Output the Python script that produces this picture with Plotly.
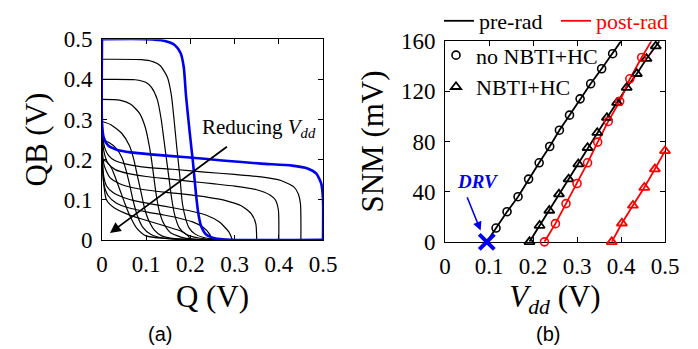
import plotly.graph_objects as go

# ---------------- (a) butterfly curves: forward VTC points
vdd_levels = [0.5, 0.45, 0.4, 0.35, 0.3, 0.25, 0.2]

q_050 = [0, 0.10, 0.14, 0.165, 0.178, 0.185, 0.19, 0.198, 0.206, 0.213, 0.218, 0.224, 0.235, 0.255, 0.29, 0.5]
qb_050 = [0.5, 0.5, 0.496, 0.485, 0.465, 0.43, 0.36, 0.272, 0.191, 0.11, 0.065, 0.035, 0.014, 0.004, 0.0, 0]

q_045 = [0, 0.09, 0.115, 0.132, 0.148, 0.157, 0.163, 0.169, 0.176, 0.182, 0.19, 0.197, 0.21, 0.23, 0.26, 0.45]
qb_045 = [0.45, 0.449, 0.444, 0.434, 0.405, 0.36, 0.3, 0.232, 0.16, 0.09, 0.05, 0.03, 0.015, 0.006, 0.002, 0]

q_040 = [0, 0.075, 0.1, 0.112, 0.125, 0.134, 0.14, 0.146, 0.152, 0.158, 0.165, 0.175, 0.19, 0.222, 0.26, 0.4]
qb_040 = [0.4, 0.399, 0.392, 0.38, 0.35, 0.3, 0.25, 0.2, 0.15, 0.1, 0.06, 0.03, 0.014, 0.004, 0.001, 0]

q_035 = [0, 0.04, 0.065, 0.085, 0.098, 0.106, 0.112, 0.118, 0.123, 0.13, 0.14, 0.155, 0.185, 0.22, 0.35]
qb_035 = [0.35, 0.348, 0.338, 0.315, 0.28, 0.24, 0.2, 0.15, 0.11, 0.07, 0.04, 0.018, 0.005, 0.001, 0]

q_030 = [0, 0.02, 0.045, 0.062, 0.072, 0.08, 0.088, 0.096, 0.105, 0.118, 0.135, 0.165, 0.3]
qb_030 = [0.295, 0.287, 0.265, 0.235, 0.2, 0.16, 0.12, 0.08, 0.05, 0.025, 0.01, 0.003, 0]

q_025 = [0, 0.015, 0.032, 0.045, 0.054, 0.062, 0.07, 0.08, 0.092, 0.11, 0.14, 0.25]
qb_025 = [0.25, 0.243, 0.228, 0.205, 0.175, 0.14, 0.1, 0.06, 0.032, 0.014, 0.004, 0]

q_020 = [0, 0.01, 0.022, 0.032, 0.042, 0.052, 0.063, 0.078, 0.1, 0.2]
qb_020 = [0.2, 0.195, 0.178, 0.15, 0.12, 0.09, 0.06, 0.03, 0.01, 0]

curves_q = [q_050, q_045, q_040, q_035, q_030, q_025, q_020]
curves_qb = [qb_050, qb_045, qb_040, qb_035, qb_030, qb_025, qb_020]

axis_ticks_a = [0, 0.1, 0.2, 0.3, 0.4, 0.5]

# ---------------- (b) SNM vs Vdd
pre_no_vdd = [0.116, 0.141, 0.166, 0.190, 0.214, 0.238, 0.260, 0.283, 0.307, 0.331, 0.356, 0.381]
pre_no_snm = [11, 24, 36, 50, 63, 76, 89, 101, 114, 126, 138, 150]
pre_no_line_vdd = [0.095] + pre_no_vdd + [0.400]
pre_no_line_snm = [0] + pre_no_snm + [160]

pre_nbti_vdd = [0.192, 0.215, 0.237, 0.259, 0.281, 0.303, 0.324, 0.346, 0.368, 0.391, 0.413, 0.436, 0.458, 0.479]
pre_nbti_snm = [0, 13, 25, 38, 50, 62, 75, 87, 99, 111, 123, 134, 146, 156]
pre_nbti_line_vdd = pre_nbti_vdd + [0.487]
pre_nbti_line_snm = pre_nbti_snm + [160]

post_no_vdd = [0.226, 0.251, 0.275, 0.300, 0.324, 0.347, 0.371, 0.397, 0.420, 0.447]
post_no_snm = [0, 14.5, 30.5, 46.5, 63, 79.5, 96, 112, 130, 147]
post_no_line_vdd = post_no_vdd + [0.469]
post_no_line_snm = post_no_snm + [160]

post_nbti_vdd = [0.379, 0.402, 0.427, 0.453, 0.477, 0.5]
post_nbti_snm = [0, 14.8, 29, 43.3, 58, 72.5]

drv_vdd = [0.095]
drv_snm = [0]

snm_ticks = [0, 40, 80, 120, 160]
vdd_ticks = [0, 0.1, 0.2, 0.3, 0.4, 0.5]

SERIF = "Liberation Serif"
BLUE = "#0000ee"
RED = "#ff0000"
W, H = 698, 349

fig = go.Figure()

# left panel: draw black curves first, blue on top
order = list(range(1, len(vdd_levels))) + [0]
for i in order:
    color = BLUE if i == 0 else "black"
    lw = 2.6 if i == 0 else 1.2
    for xs, ys in ((curves_q[i], curves_qb[i]), (curves_qb[i], curves_q[i])):
        fig.add_trace(go.Scatter(x=xs, y=ys, mode="lines",
                                 line=dict(color=color, width=lw, shape="spline", smoothing=0.6),
                                 showlegend=False, hoverinfo="skip",
                                 xaxis="x", yaxis="y"))

# right panel lines
fig.add_trace(go.Scatter(x=pre_no_line_vdd, y=pre_no_line_snm, mode="lines",
                         line=dict(color="black", width=1.8), name="pre-rad",
                         legend="legend", xaxis="x2", yaxis="y2"))
fig.add_trace(go.Scatter(x=pre_nbti_line_vdd, y=pre_nbti_line_snm, mode="lines",
                         line=dict(color="black", width=1.8), showlegend=False,
                         xaxis="x2", yaxis="y2"))
fig.add_trace(go.Scatter(x=post_no_line_vdd, y=post_no_line_snm, mode="lines",
                         line=dict(color=RED, width=1.8),
                         name='<span style="color:#ff0000">post-rad</span>',
                         legend="legend", xaxis="x2", yaxis="y2"))
fig.add_trace(go.Scatter(x=post_nbti_vdd, y=post_nbti_snm, mode="lines",
                         line=dict(color=RED, width=1.8), showlegend=False,
                         xaxis="x2", yaxis="y2"))

# right panel markers
fig.add_trace(go.Scatter(x=pre_no_vdd, y=pre_no_snm, mode="markers", cliponaxis=False,
                         marker=dict(symbol="circle-open", size=8, color="black", line=dict(width=1.6)),
                         name="no NBTI+HC", legend="legend2", xaxis="x2", yaxis="y2"))
fig.add_trace(go.Scatter(x=pre_nbti_vdd, y=pre_nbti_snm, mode="markers", cliponaxis=False,
                         marker=dict(symbol="triangle-up-open", size=9, color="black", line=dict(width=1.8)),
                         name="NBTI+HC", legend="legend2", xaxis="x2", yaxis="y2"))
fig.add_trace(go.Scatter(x=post_no_vdd, y=post_no_snm, mode="markers", cliponaxis=False,
                         marker=dict(symbol="circle-open", size=8, color=RED, line=dict(width=1.6)),
                         showlegend=False, xaxis="x2", yaxis="y2"))
fig.add_trace(go.Scatter(x=post_nbti_vdd, y=post_nbti_snm, mode="markers", cliponaxis=False,
                         marker=dict(symbol="triangle-up-open", size=9, color=RED, line=dict(width=1.8)),
                         showlegend=False, xaxis="x2", yaxis="y2"))
fig.add_trace(go.Scatter(x=drv_vdd, y=drv_snm, mode="markers", cliponaxis=False,
                         marker=dict(symbol="x-thin", size=15, color=BLUE, line=dict(width=4, color=BLUE)),
                         showlegend=False, xaxis="x2", yaxis="y2"))

axis_common = dict(showline=True, linecolor="black", linewidth=1, mirror="ticks",
                   ticks="inside", ticklen=5, tickcolor="black", showgrid=False,
                   zeroline=False, layer="below traces",
                   tickfont=dict(family=SERIF, size=23, color="black"),
                   ticklabelstandoff=4)

fig.update_layout(
    width=W, height=H, autosize=False,
    margin=dict(l=0, r=0, t=0, b=0),
    paper_bgcolor="white", plot_bgcolor="white",
    font=dict(family=SERIF, color="black"),
    xaxis=dict(domain=[102 / W, 323 / W], range=[0, 0.5], tickvals=axis_ticks_a,
               anchor="y", automargin=False,
               title=dict(text="Q (V)", font=dict(family=SERIF, size=31), standoff=8),
               **axis_common),
    yaxis=dict(domain=[1 - 237 / H, 1 - 31 / H], range=[0, 0.5], tickvals=axis_ticks_a,
               anchor="x", automargin=False,
               title=dict(text="QB (V)", font=dict(family=SERIF, size=31), standoff=6),
               **axis_common),
    xaxis2=dict(domain=[445 / W, 665 / W], range=[0, 0.5], tickvals=vdd_ticks,
                anchor="y2", automargin=False,
                title=dict(text="<i>V<sub>dd</sub></i> (V)", font=dict(family=SERIF, size=31), standoff=2),
                **axis_common),
    yaxis2=dict(domain=[1 - 239 / H, 1 - 33 / H], range=[0, 160], tickvals=snm_ticks,
                anchor="x2", automargin=False,
                title=dict(text="SNM (mV)", font=dict(family=SERIF, size=31), standoff=8),
                **axis_common),
    legend=dict(orientation="h", x=439 / W, y=1 - 12 / H, xanchor="left", yanchor="middle",
                bgcolor="rgba(0,0,0,0)", font=dict(family=SERIF, size=22, color="black"),
                itemwidth=30, tracegroupgap=0, borderwidth=0,
                entrywidth=72, entrywidthmode="pixels"),
    legend2=dict(orientation="v", x=436 / W, y=1 - 26 / H, xanchor="left", yanchor="top",
                 bgcolor="rgba(0,0,0,0)", font=dict(family=SERIF, size=22, color="black"),
                 itemwidth=30, borderwidth=0, tracegroupgap=0),
    annotations=[
        dict(text="Reducing <i>V<sub>dd</sub></i>", x=0.222, y=0.279, xref="x", yref="y",
             xanchor="left", yanchor="middle", showarrow=False,
             font=dict(family=SERIF, size=21, color="black")),
        dict(text="", x=0.018, y=0.017, ax=0.286, ay=0.235, xref="x", yref="y",
             axref="x", ayref="y", showarrow=True, arrowhead=2, arrowsize=1.2,
             arrowwidth=1.8, arrowcolor="black"),
        dict(text="<b><i>DRV</i></b>", x=0.075, y=48, xref="x2", yref="y2",
             showarrow=False, font=dict(family=SERIF, size=19, color=BLUE)),
        dict(text="", x=0.081, y=9, ax=0.049, ay=36.7, xref="x2", yref="y2",
             axref="x2", ayref="y2", showarrow=True, arrowhead=2, arrowsize=1.1,
             arrowwidth=1.6, arrowcolor=BLUE),
        dict(text="(a)", x=160 / W, y=1 - 347 / H, xref="paper", yref="paper",
             xanchor="center", yanchor="bottom",
             showarrow=False, font=dict(family="Liberation Sans", size=20, color="black")),
        dict(text="(b)", x=548 / W, y=1 - 347 / H, xref="paper", yref="paper",
             xanchor="center", yanchor="bottom",
             showarrow=False, font=dict(family="Liberation Sans", size=20, color="black")),
    ],
)

fig.write_html("out.html", config={"displayModeBar": False},
               post_script="document.body.style.margin='0';")
